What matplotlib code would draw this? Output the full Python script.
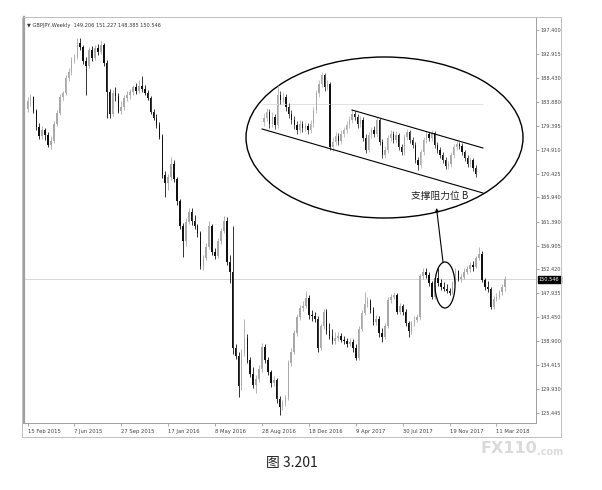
import numpy as np
import matplotlib.pyplot as plt
from matplotlib.patches import Ellipse, Rectangle

# weekly GBPJPY candles, 15 Feb 2015 .. Apr 2018
opens = [182.6, 184.0, 184.8, 182.2, 179.2, 177.5, 178.6, 177.6, 175.8, 176.6,
         179.8, 181.8, 184.9, 185.6, 188.4, 189.6, 191.8, 192.3, 195.0, 194.2,
         191.6, 190.7, 193.6, 192.2, 194.1, 193.2, 194.6, 191.2, 185.8, 181.6,
         185.6, 185.0, 182.2, 183.0, 184.6, 185.2, 185.8, 186.6, 185.9, 186.8,
         186.4, 185.6, 184.6, 182.0, 180.9, 179.6, 177.3, 170.2, 168.6, 169.8,
         172.2, 169.4, 165.2, 160.6, 157.8, 161.4, 163.3, 161.6, 160.6, 159.2,
         153.0, 154.6, 156.6, 160.6, 155.6, 155.0, 157.8, 159.6, 161.5, 153.8,
         152.0, 137.6, 136.2, 130.6, 136.8, 139.6, 135.4, 132.7, 130.8, 131.8,
         133.8, 137.9, 135.4, 133.2, 131.0, 131.6, 128.0, 126.6, 127.4, 128.3,
         134.8, 137.0, 140.4, 143.5, 145.1, 145.6, 147.0, 143.9, 143.6, 143.2,
         137.6, 141.7, 144.4, 140.8, 140.0, 138.9, 139.6, 139.9, 139.2, 138.9,
         138.5, 138.8, 137.6, 135.7, 141.3, 144.2, 146.0, 146.4, 144.8, 142.6,
         143.2, 140.4, 139.8, 141.8, 146.7, 147.3, 147.6, 144.5, 145.6, 144.4,
         142.3, 140.8, 142.3, 142.9, 143.4, 151.1, 152.0, 151.4, 149.8, 147.2,
         150.9, 149.8, 149.2, 148.7, 148.4, 148.0, 149.8, 152.1, 150.7, 151.0,
         152.0, 152.5, 153.3, 152.8, 154.6, 155.4, 150.4, 149.2, 148.8, 145.4,
         146.8, 147.3, 148.1, 149.206]
highs = [184.9, 185.3, 185.0, 182.6, 179.9, 179.4, 179.0, 178.2, 177.4, 180.3,
         182.3, 185.3, 186.0, 188.9, 190.2, 192.3, 192.9, 195.9, 195.9, 194.5,
         192.3, 194.2, 194.3, 194.6, 194.8, 195.3, 195.0, 191.8, 186.4, 186.2,
         186.6, 185.5, 184.0, 185.2, 186.0, 186.3, 187.1, 187.4, 188.0, 188.7,
         187.0, 186.2, 185.0, 182.5, 181.6, 180.2, 177.8, 171.0, 170.4, 173.6,
         173.0, 169.8, 165.6, 161.2, 162.0, 163.9, 164.0, 162.6, 161.0, 159.6,
         155.2, 157.3, 161.6, 161.0, 156.4, 158.3, 160.2, 162.4, 162.2, 155.2,
         160.6, 138.4, 137.0, 137.4, 143.2, 140.2, 135.9, 134.0, 132.6, 134.4,
         138.6, 138.4, 136.0, 133.6, 132.4, 132.0, 128.6, 127.9, 128.9, 135.4,
         137.6, 141.0, 144.1, 145.8, 146.4, 148.4, 147.6, 144.8, 144.4, 143.6,
         142.2, 145.0, 144.9, 142.4, 141.2, 140.6, 140.6, 140.4, 140.0, 139.6,
         139.6, 139.4, 138.4, 141.8, 144.8, 148.2, 147.2, 146.9, 145.3, 143.8,
         143.6, 141.4, 142.4, 147.2, 147.8, 148.2, 147.9, 146.2, 146.0, 144.9,
         142.8, 142.8, 143.6, 144.0, 151.6, 152.6, 152.6, 152.0, 150.2, 151.4,
         152.6, 150.6, 150.0, 149.6, 148.9, 150.3, 152.7, 152.4, 151.5, 152.6,
         153.0, 153.9, 154.0, 155.0, 156.7, 155.8, 150.8, 150.2, 149.2, 147.4,
         148.0, 148.6, 149.6, 151.227]
lows = [181.9, 183.2, 181.8, 178.6, 177.0, 176.9, 176.8, 175.4, 175.0, 176.2,
        179.3, 181.4, 184.2, 185.2, 187.9, 189.0, 191.2, 192.0, 193.6, 191.0,
        185.2, 190.2, 191.6, 191.8, 192.7, 192.9, 190.6, 180.8, 180.9, 181.2,
        184.0, 181.8, 181.6, 182.3, 184.0, 184.4, 185.2, 185.4, 185.6, 185.8,
        185.2, 184.2, 181.6, 180.4, 179.0, 176.9, 169.6, 166.1, 167.4, 169.2,
        168.8, 164.6, 160.0, 154.8, 156.8, 160.9, 160.8, 160.0, 158.6, 152.5,
        152.4, 154.2, 156.2, 155.2, 154.4, 154.6, 157.2, 159.2, 153.3, 149.8,
        136.6, 135.6, 128.5, 129.8, 136.2, 134.8, 132.2, 130.2, 129.2, 131.2,
        133.2, 134.9, 132.6, 130.4, 130.6, 127.4, 125.1, 126.0, 126.7, 127.8,
        134.3, 136.5, 140.0, 143.0, 144.6, 145.1, 143.2, 142.8, 142.6, 137.0,
        137.2, 141.2, 140.2, 139.4, 138.4, 138.4, 139.0, 138.8, 138.4, 137.8,
        138.0, 137.0, 135.4, 135.4, 140.8, 143.8, 145.4, 144.3, 142.0, 142.0,
        139.8, 138.8, 139.4, 141.4, 146.2, 146.9, 144.0, 144.0, 143.8, 141.8,
        139.8, 140.3, 141.8, 142.6, 143.0, 150.6, 150.8, 149.3, 146.8, 146.8,
        149.4, 148.6, 148.3, 147.9, 147.6, 147.8, 149.6, 150.2, 150.0, 150.6,
        151.6, 152.0, 152.2, 152.6, 154.2, 150.0, 148.6, 148.2, 145.0, 145.0,
        146.4, 146.9, 147.6, 148.385]
closes = [184.0, 184.8, 182.2, 179.2, 177.5, 178.6, 177.6, 175.8, 176.6, 179.8,
          181.8, 184.9, 185.6, 188.4, 189.6, 191.8, 192.3, 195.0, 194.2, 191.6,
          190.7, 193.6, 192.2, 194.1, 193.2, 194.6, 191.2, 185.8, 181.6, 185.6,
          185.0, 182.2, 183.0, 184.6, 185.2, 185.8, 186.6, 185.9, 186.8, 186.4,
          185.6, 184.6, 182.0, 180.9, 179.6, 177.3, 170.2, 168.6, 169.8, 172.2,
          169.4, 165.2, 160.6, 157.8, 161.4, 163.3, 161.6, 160.6, 159.2, 153.0,
          154.6, 156.6, 160.6, 155.6, 155.0, 157.8, 159.6, 161.5, 153.8, 152.0,
          137.6, 136.2, 130.6, 136.8, 139.6, 135.4, 132.7, 130.8, 131.8, 133.8,
          137.9, 135.4, 133.2, 131.0, 131.6, 128.0, 126.6, 127.4, 128.3, 134.8,
          137.0, 140.4, 143.5, 145.1, 145.6, 147.0, 143.9, 143.6, 143.2, 137.6,
          141.7, 144.4, 140.8, 140.0, 138.9, 139.6, 139.9, 139.2, 138.9, 138.5,
          138.8, 137.6, 135.7, 141.3, 144.2, 146.0, 146.4, 144.8, 142.6, 143.2,
          140.4, 139.8, 141.8, 146.7, 147.3, 147.6, 144.5, 145.6, 144.4, 142.3,
          140.8, 142.3, 142.9, 143.4, 151.1, 152.0, 151.4, 149.8, 147.2, 150.9,
          149.8, 149.2, 148.7, 148.4, 148.0, 149.8, 152.1, 150.7, 151.0, 152.0,
          152.5, 153.3, 152.8, 154.6, 155.4, 150.4, 149.2, 148.8, 145.4, 146.8,
          147.3, 148.1, 149.2, 150.546]

date_labels = ['15 Feb 2015', '7 Jun 2015', '27 Sep 2015', '17 Jan 2016', '8 May 2016',
               '28 Aug 2016', '18 Dec 2016', '9 Apr 2017', '30 Jul 2017', '19 Nov 2017',
               '11 Mar 2018']
date_weeks = [0, 16, 32, 48, 64, 80, 96, 112, 128, 144, 160]
price_ticks = [197.400, 192.915, 188.430, 183.880, 179.395, 174.910, 170.425, 165.940,
               161.390, 156.905, 152.420, 147.935, 143.450, 138.900, 134.415, 129.930,
               125.445]

# zoomed-in (daily) candles shown inside the big ellipse
zoom_opens = [154.8, 155.2, 155.8, 154.6, 155.3, 154.5, 157.5, 157.0, 157.3, 156.3,
              155.6, 155.0, 154.5, 154.0, 154.6, 154.2, 154.4, 154.0, 154.6, 156.0,
              157.7, 158.6, 159.5, 158.3, 158.6, 152.3, 152.8, 153.4, 152.9, 153.6,
              154.0, 154.5, 155.0, 155.6, 155.3, 154.6, 155.0, 153.2, 152.0, 153.5,
              154.0, 153.6, 155.0, 152.8, 151.5, 152.0, 153.2, 153.6, 153.0, 153.5,
              152.3, 151.8, 153.3, 153.8, 153.0, 152.5, 151.0, 150.5, 151.8, 153.0,
              153.6, 153.2, 153.7, 152.5, 152.0, 151.5, 151.0, 150.4, 150.6, 151.5,
              152.3, 152.6, 152.4, 151.8, 151.2, 150.6, 151.0, 150.2]
zoom_highs = [155.7, 156.2, 156.1, 155.8, 155.6, 158.5, 157.9, 157.8, 157.6, 156.7,
              156.0, 155.4, 154.9, 155.0, 154.9, 154.8, 154.7, 155.0, 156.3, 158.0,
              159.0, 159.8, 159.7, 159.0, 158.8, 153.3, 153.8, 153.7, 154.0, 154.3,
              154.9, 155.4, 156.0, 155.9, 155.6, 155.4, 155.3, 153.6, 153.8, 154.3,
              154.4, 155.3, 155.2, 153.1, 152.4, 153.5, 154.0, 153.9, 153.9, 153.7,
              152.6, 153.6, 154.1, 154.0, 153.3, 152.8, 151.3, 152.1, 153.3, 153.9,
              153.8, 154.0, 153.9, 152.8, 152.3, 151.8, 151.3, 150.9, 151.8, 152.6,
              152.9, 152.8, 152.7, 152.0, 151.5, 151.3, 151.2, 150.5]
zoom_lows = [154.4, 154.9, 154.2, 154.3, 154.1, 154.2, 156.6, 156.7, 155.9, 155.2,
             154.6, 154.1, 153.6, 153.7, 153.8, 153.9, 153.6, 153.7, 154.3, 155.7,
             157.3, 158.3, 157.9, 158.0, 152.0, 151.9, 152.5, 152.5, 152.6, 153.3,
             153.7, 154.2, 154.7, 155.0, 154.2, 154.3, 152.9, 151.7, 151.8, 153.2,
             153.3, 153.3, 152.5, 151.2, 151.2, 151.7, 152.9, 152.7, 152.7, 152.0,
             151.5, 151.5, 153.0, 152.7, 152.2, 150.7, 150.0, 150.2, 151.5, 152.7,
             152.9, 152.9, 152.2, 151.7, 151.2, 150.7, 150.1, 150.1, 150.3, 151.2,
             152.0, 152.1, 151.5, 150.9, 150.3, 150.3, 149.9, 149.3]
zoom_closes = [155.2, 155.8, 154.6, 155.3, 154.5, 157.5, 157.0, 157.3, 156.3, 155.6,
               155.0, 154.5, 154.0, 154.6, 154.2, 154.4, 154.0, 154.6, 156.0, 157.7,
               158.6, 159.5, 158.3, 158.6, 152.3, 152.8, 153.4, 152.9, 153.6, 154.0,
               154.5, 155.0, 155.6, 155.3, 154.6, 155.0, 153.2, 152.0, 153.5, 154.0,
               153.6, 155.0, 152.8, 151.5, 152.0, 153.2, 153.6, 153.0, 153.5, 152.3,
               151.8, 153.3, 153.8, 153.0, 152.5, 151.0, 150.5, 151.8, 153.0, 153.6,
               153.2, 153.7, 152.5, 152.0, 151.5, 151.0, 150.4, 150.6, 151.5, 152.3,
               152.6, 152.4, 151.8, 151.2, 150.6, 151.0, 150.2, 149.6]
channel_low = ([-0.7, 79.6], [154.1, 147.7])
channel_high = ([32.0, 79.6], [156.0, 152.2])
zoom_level = 156.6

UP = '#a9a9a9'
DOWN = '#111111'


def draw_candles(ax, o, h, l, c, width, lw, min_body):
    o, h, l, c = map(np.asarray, (o, h, l, c))
    x = np.arange(len(c))
    colors = np.where(c >= o, UP, DOWN)
    ax.vlines(x, l, h, colors=colors, lw=lw)
    body = np.maximum(np.abs(c - o), min_body)
    ax.bar(x, body, bottom=np.minimum(o, c), width=width, color=colors, linewidth=0)


fig = plt.figure(figsize=(6.02, 4.9), dpi=100)
W, H = 602, 490

# main chart, pixel box 24..536 x 17..423
ax = fig.add_axes([24 / W, 1 - 423 / H, 512 / W, 406 / H])
draw_candles(ax, opens, highs, lows, closes, 0.55, 0.6, 0.15)
ax.axhline(closes[-1], color='#d0d0d0', lw=0.6, zorder=0)
ax.set_xlim(-1.2, 173.5)
ax.set_ylim(123.57, 199.84)
ax.yaxis.tick_right()
ax.set_yticks(price_ticks)
ax.set_yticklabels(['%.3f' % v for v in price_ticks])
ax.set_xticks(date_weeks)
ax.set_xticklabels(date_labels, ha='left')
ax.tick_params(axis='y', length=2, width=0.5, color='#888888', labelsize=3.6,
               labelcolor='#444444', pad=1.5)
ax.tick_params(axis='x', length=2, width=0.5, color='#888888', labelsize=3.8,
               labelcolor='#444444', pad=2.5)
for s in ax.spines.values():
    s.set_color('#a0a0a0')
    s.set_linewidth(0.7)
ax.spines['left'].set_linewidth(1.6)
ax.annotate('%.3f' % closes[-1], xy=(1, closes[-1]), xycoords=('axes fraction', 'data'),
            xytext=(2, 0), textcoords='offset points', ha='left', va='center',
            fontsize=3.6, color='white',
            bbox=dict(boxstyle='square,pad=0.25', fc='black', ec='black'))
ax.text(0.006, 0.985, '\u25bc GBPJPY,Weekly  149.206 151.227 148.385 150.546',
        transform=ax.transAxes, fontsize=3.6, color='#333333', va='top')

# overlay in pixel coordinates for the annotations
ov = fig.add_axes([0, 0, 1, 1], facecolor='none')
ov.set_xlim(0, W)
ov.set_ylim(H, 0)
ov.axis('off')
ov.add_patch(Rectangle((22, 17), 539, 420, fill=False, ec='#c0c0c0', lw=0.7))
ov.add_patch(Ellipse((384.5, 137.5), 277, 161, fill=False, ec='black', lw=1.0))
ov.add_patch(Ellipse((445, 285), 20, 46, fill=False, ec='black', lw=0.9))
ov.annotate('', xy=(436.5, 208), xytext=(443, 262),
            arrowprops=dict(arrowstyle='-|>', color='black', lw=0.8,
                            mutation_scale=5, shrinkA=0, shrinkB=0))
ov.text(440, 196, '支撑阻力位 B', ha='center', va='center', fontsize=7,
        color='#222222', family=['Noto Sans CJK SC', 'DejaVu Sans'])
ov.text(292, 463, '图 3.201', ha='center', va='center', fontsize=10,
        color='#222222', family=['Noto Sans CJK SC', 'DejaVu Sans'])
ov.text(480, 448, 'FX110', ha='left', va='center', fontsize=11.5, fontweight='bold',
        color='#dadada')
ov.text(537.5, 452, '.com', ha='left', va='center', fontsize=7, fontweight='bold',
        color='#dadada')

# zoomed channel view inside the ellipse
ins = fig.add_axes([258 / W, 1 - 200 / H, 230 / W, 134 / H], facecolor='none')
ins.set_xlim(-2.18, 81.45)
ins.set_ylim(147.0, 160.4)
ins.axis('off')
ins.hlines(zoom_level, channel_low[0][0], channel_low[0][1], color='#dddddd', lw=0.6)
draw_candles(ins, zoom_opens, zoom_highs, zoom_lows, zoom_closes, 0.5, 0.5, 0.05)
ins.plot(*channel_low, color='black', lw=0.8)
ins.plot(*channel_high, color='black', lw=0.8)

fig.savefig('out.png', dpi=100)
